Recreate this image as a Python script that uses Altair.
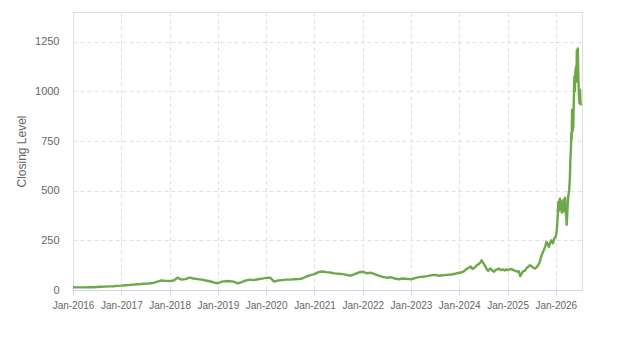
import altair as alt
import pandas as pd

# Monthly closing levels (1st of each month), 2016-2023
years_monthly = [2016, 2017, 2018, 2019, 2020, 2021, 2022, 2023]
monthly_values = [
    [14, 13, 13, 13, 14, 14, 15, 16, 17, 18, 19, 21],
    [22, 24, 25, 27, 29, 30, 32, 33, 36, 42, 48, 46],
    [45, 48, 62, 52, 55, 62, 58, 55, 52, 48, 44, 38],
    [34, 42, 45, 44, 42, 33, 40, 48, 52, 50, 54, 57],
    [61, 62, 42, 48, 50, 52, 52, 54, 55, 58, 68, 75],
    [80, 90, 93, 90, 88, 84, 82, 80, 76, 72, 80, 88],
    [92, 84, 87, 80, 72, 66, 62, 64, 58, 54, 58, 56],
    [54, 60, 65, 67, 70, 74, 76, 72, 74, 76, 78, 82],
]

# Finer readings, 2024 onwards
late_dates = [
    "2024-01-01", "2024-01-15", "2024-02-01", "2024-02-15", "2024-03-01", "2024-03-15",
    "2024-03-28", "2024-04-10", "2024-04-22", "2024-05-05", "2024-05-15", "2024-05-28",
    "2024-06-10", "2024-06-18", "2024-06-25", "2024-07-05", "2024-07-15", "2024-07-25",
    "2024-08-01", "2024-08-08", "2024-08-20", "2024-09-01", "2024-09-10", "2024-09-20",
    "2024-10-01", "2024-10-15", "2024-10-28", "2024-11-10", "2024-11-25", "2024-12-10",
    "2024-12-20",
    "2025-01-01", "2025-01-15", "2025-02-01", "2025-02-15", "2025-03-01", "2025-03-15",
    "2025-03-25", "2025-04-07", "2025-04-15", "2025-04-25", "2025-05-10", "2025-05-25",
    "2025-06-05", "2025-06-20", "2025-07-01", "2025-07-15", "2025-07-28", "2025-08-08",
    "2025-08-20", "2025-09-01", "2025-09-15", "2025-09-25", "2025-10-05", "2025-10-15",
    "2025-10-22", "2025-11-01", "2025-11-10", "2025-11-20", "2025-11-28", "2025-12-10",
    "2025-12-20",
    "2026-01-01", "2026-01-08", "2026-01-14", "2026-01-21", "2026-01-26", "2026-01-31",
    "2026-02-05", "2026-02-10", "2026-02-15", "2026-02-20", "2026-02-25", "2026-03-02",
    "2026-03-07", "2026-03-12", "2026-03-17", "2026-03-21", "2026-03-24", "2026-03-27",
    "2026-03-31", "2026-04-05", "2026-04-12", "2026-04-17", "2026-04-21", "2026-04-25",
    "2026-04-28", "2026-05-01", "2026-05-04", "2026-05-08", "2026-05-13", "2026-05-17",
    "2026-05-21", "2026-05-25", "2026-05-29", "2026-06-03", "2026-06-06", "2026-06-09",
    "2026-06-12", "2026-06-16", "2026-06-19", "2026-06-21", "2026-06-25", "2026-06-28",
    "2026-07-01", "2026-07-03", "2026-07-06", "2026-07-09",
]
late_values = [
    87, 88, 92, 100, 108, 112,
    118, 106, 110, 118, 126, 130,
    140, 150, 142, 132, 120, 108,
    100, 96, 108, 104, 96, 92,
    100, 104, 108, 100, 104, 98,
    104,
    100, 104, 106, 100, 96, 92,
    96, 70, 80, 92, 96, 110,
    116, 125, 120, 112, 108, 115,
    125, 140, 175, 190, 205, 225,
    242, 230, 217, 240, 250, 235,
    260,
    270, 300, 360, 445, 400, 460,
    410, 450, 390, 440, 395, 455,
    400, 465, 390, 370, 328, 360,
    420, 470, 504, 560, 655, 700,
    790, 760, 908, 800, 825, 950,
    1075, 1000, 1100, 1125, 1050, 1208,
    1150, 1217, 1120, 1058, 980, 942,
    1000, 1008, 950, 930,
]

dates = []
values = []
for y, row in zip(years_monthly, monthly_values):
    for m, v in enumerate(row, start=1):
        dates.append(f"{y}-{m:02d}-01")
        values.append(v)
dates += late_dates
values += late_values

df = pd.DataFrame({"date": dates, "value": values})

year_ticks = [alt.DateTime(year=y, month=1, date=1, utc=True) for y in range(2016, 2027)]

line = alt.Chart(df).mark_line(color="#6fa84b", strokeWidth=2.4, strokeJoin="round").encode(
    x=alt.X(
        "date:T",
        scale=alt.Scale(
            type="utc",
            domain=[
                alt.DateTime(year=2016, month=1, date=1, utc=True),
                alt.DateTime(year=2026, month=7, date=18, utc=True),
            ],
            nice=False,
        ),
        axis=alt.Axis(
            title=None,
            values=year_ticks,
            labelExpr="utcFormat(datum.value, '%b-%Y')",
            labelFontSize=10,
            labelColor="#666666",
            labelFont="Liberation Sans",
            labelPadding=5,
            tickSize=5,
            tickColor="#ccd6eb",
            domainColor="#ccd6eb",
            gridColor="#e0e0e0",
            gridDash=[4, 3],
            labelOverlap=False,
            labelFlush=False,
        ),
    ),
    y=alt.Y(
        "value:Q",
        scale=alt.Scale(domain=[0, 1400], nice=False),
        axis=alt.Axis(
            title="Closing Level",
            titleFontSize=12,
            titleFontWeight="normal",
            titleColor="#666666",
            titleFont="Liberation Sans",
            titlePadding=6,
            values=[0, 250, 500, 750, 1000, 1250],
            format="d",
            labelFontSize=11,
            labelColor="#666666",
            labelFont="Liberation Sans",
            labelPadding=14,
            ticks=False,
            domain=False,
            gridColor="#e0e0e0",
            gridDash=[4, 3],
        ),
    ),
)

chart = line.properties(
    width=509,
    height=278,
    padding={"left": 73, "top": 12, "right": 41, "bottom": 60},
    autosize=alt.AutoSizeParams(type="none"),
).configure_view(stroke="#cccccc", strokeWidth=1).configure(background="white")

chart.save("out.html", embed_options={"renderer": "svg", "actions": False})
